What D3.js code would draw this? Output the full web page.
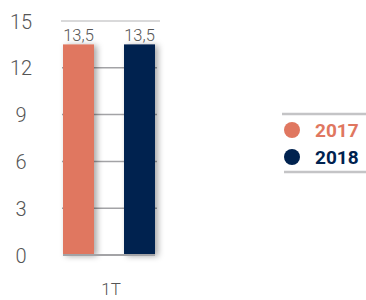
<!DOCTYPE html>
<html><head><meta charset="utf-8">
<script src="https://cdn.jsdelivr.net/npm/d3@7"></script>
<style>body{margin:0;background:#fff}svg{display:block}</style>
</head><body>
<script>
const categories = ["1T"];
const seriesNames = ["2017", "2018"];
const values2017 = [13.5];
const values2018 = [13.5];
const valueLabels2017 = ["13,5"];
const valueLabels2018 = ["13,5"];
const yTicks = [0, 3, 6, 9, 12, 15];
const colors = ["#E07760", "#00224F"];

const W = 366, H = 300;
const svg = d3.select("body").append("svg").attr("width", W).attr("height", H);
const defs = svg.append("defs");
const f = defs.append("filter").attr("id","sh").attr("x","-30%").attr("y","-10%").attr("width","170%").attr("height","130%");
f.append("feDropShadow").attr("dx",3).attr("dy",1).attr("stdDeviation",3).attr("flood-color","#000").attr("flood-opacity",0.35);

const y = d3.scaleLinear().domain([0, 15]).range([255, 21]);
const x0 = d3.scaleBand().domain(categories).range([63, 155]).padding(0);
const x1 = d3.scaleBand().domain(seriesNames).range([0, x0.bandwidth()]).paddingInner(0.492).paddingOuter(0);

const font = "Roboto, 'Liberation Sans', sans-serif";

// gridlines
const g = svg.append("g");
yTicks.filter(t => t > 0 && t < 15).forEach(t => {
  g.append("line").attr("x1", 62).attr("x2", 157).attr("y1", y(t)).attr("y2", y(t))
    .attr("stroke", "#A3A3A6").attr("stroke-width", 1.5);
});
g.append("line").attr("x1", 61).attr("x2", 160).attr("y1", y(15)).attr("y2", y(15))
  .attr("stroke", "#B4B4B6").attr("stroke-width", 1.2);

// y axis labels
const yAxis = d3.axisLeft(y).tickValues(yTicks).tickSize(0).tickFormat(d3.format("d"));
const ya = svg.append("g").call(yAxis);
ya.select(".domain").remove();
ya.selectAll("text").attr("x", 21).attr("text-anchor", "middle").attr("dy", "0.35em")
  .attr("font-family", font).attr("font-weight", 300).attr("font-size", 20).attr("fill", "#555");

// bars
const data = categories.map((c, i) => ({c, vals: [
  {s: seriesNames[0], v: values2017[i], l: valueLabels2017[i]},
  {s: seriesNames[1], v: values2018[i], l: valueLabels2018[i]}]}));
const bg = svg.append("g");
data.forEach(d => {
  d.vals.forEach((v, j) => {
    const bx = x0(d.c) + x1(v.s);
    bg.append("rect").attr("x", bx).attr("y", y(v.v)).attr("width", x1.bandwidth())
      .attr("height", y(0) - y(v.v)).attr("fill", colors[j]).attr("filter", "url(#sh)");
    bg.append("text").attr("x", bx + x1.bandwidth()/2).attr("y", y(v.v) - 3)
      .attr("text-anchor", "middle").attr("font-family", font).attr("font-weight", 300)
      .attr("font-size", 16.5).attr("fill", "#555").text(v.l);
  });
});
// baseline
svg.append("line").attr("x1", 63).attr("x2", 155).attr("y1", y(0)).attr("y2", y(0))
  .attr("stroke", "#A3A3A6").attr("stroke-width", 2);

// x axis label
const xAxis = d3.axisBottom(x0).tickSize(0);
const xa = svg.append("g").attr("transform", `translate(0,${y(0)})`).call(xAxis);
xa.select(".domain").remove();
xa.selectAll("text").attr("x", 2).attr("y", 40).attr("dy", null).attr("font-family", font).attr("font-weight", 300)
  .attr("font-size", 17).attr("fill", "#555");

// legend
const lg = svg.append("g");
lg.append("line").attr("x1", 282).attr("x2", 366).attr("y1", 114).attr("y2", 114).attr("stroke", "#C4C4C6").attr("stroke-width", 2.5);
lg.append("line").attr("x1", 284).attr("x2", 366).attr("y1", 172).attr("y2", 172).attr("stroke", "#C4C4C6").attr("stroke-width", 2.5);
seriesNames.forEach((s, i) => {
  const cy = 130 + i * 27;
  lg.append("circle").attr("cx", 292).attr("cy", cy).attr("r", 8).attr("fill", colors[i]);
  lg.append("text").attr("x", 315).attr("y", cy).attr("dy", "0.36em").attr("font-family", font)
    .attr("font-weight", 700).attr("font-size", 19).attr("fill", colors[i]).text(s);
});
</script>
</body></html>
